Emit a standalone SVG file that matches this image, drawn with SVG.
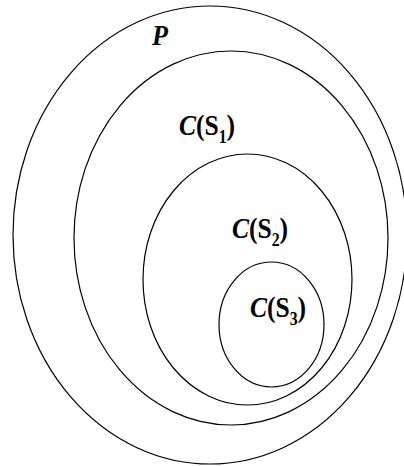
<svg xmlns="http://www.w3.org/2000/svg" width="404" height="466" viewBox="0 0 404 466">
<style>
.e{fill:none;stroke:#000;stroke-width:1.2}
.t{font-family:"Liberation Serif","Times New Roman",serif;font-size:29px;font-weight:bold;fill:#000}
.i{font-style:italic}
.s{font-size:18px}
</style>
<rect width="404" height="466" fill="#fff"/>
<g id="P">
<ellipse class="e" cx="210" cy="235" rx="197" ry="229"/>
<text class="t i" transform="translate(152,45) scale(0.9,1)">P</text>
</g>
<g id="CS1">
<ellipse class="e" cx="231" cy="238" rx="157" ry="187"/>
<text class="t" transform="translate(179,135) scale(0.88,1)"><tspan class="i">C</tspan>(S<tspan class="s" dy="8">1</tspan><tspan dy="-8">)</tspan></text>
</g>
<g id="CS2">
<ellipse class="e" cx="247.5" cy="279.5" rx="104.5" ry="125.5"/>
<text class="t" transform="translate(232,238) scale(0.88,1)"><tspan class="i">C</tspan>(S<tspan class="s" dy="8">2</tspan><tspan dy="-8">)</tspan></text>
</g>
<g id="CS3">
<ellipse class="e" cx="271.5" cy="324.5" rx="52.5" ry="62.5"/>
<text class="t" transform="translate(250,317) scale(0.88,1)"><tspan class="i">C</tspan>(S<tspan class="s" dy="8">3</tspan><tspan dy="-8">)</tspan></text>
</g>
<g id="connectors"/>
</svg>
